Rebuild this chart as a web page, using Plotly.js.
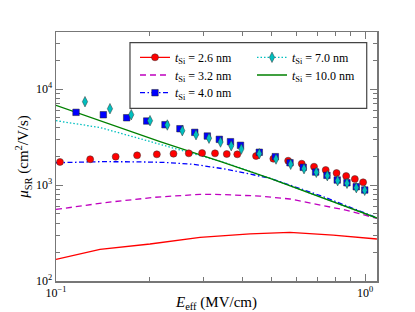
<!DOCTYPE html>
<html>
<head>
<meta charset="utf-8">
<script src="https://cdn.plot.ly/plotly-3.0.1.min.js"></script>
<style>html,body{margin:0;padding:0;background:#fff;}#chart{width:415px;height:312px;}</style>
</head>
<body>
<div id="chart"></div>
<script>
// ---- model curves (lines) ----
const lineE_26 = [0.1, 0.1388, 0.2015, 0.2925, 0.4246, 0.5713, 0.7889, 1.093];
const lineMu_26 = [168, 214, 243, 285, 309, 321, 301, 274];

const lineE_32 = [0.1, 0.144, 0.209, 0.2925, 0.3272, 0.4571, 0.5713, 0.6937, 0.8606, 1.093];
const lineMu_32 = [556, 655, 745, 800, 800, 767, 715, 634, 550, 450];

const lineE_40 = [0.1, 0.1388, 0.18, 0.2254, 0.279, 0.357, 0.4928, 0.73, 1.093];
const lineMu_40 = [1706, 1750, 1745, 1720, 1644, 1458, 1175, 760, 455];

const lineE_70 = [0.1, 0.1388, 0.2254, 0.3572, 0.4928, 1.093];
const lineMu_70 = [4677, 3972, 2566, 1683, 1175, 453];

const lineE_100 = [0.1, 0.2171, 0.3396, 0.4928, 1.093];
const lineMu_100 = [6760, 2838, 1758, 1175, 453];

// ---- data points (markers) ----
const ptE_26 = [0.103, 0.129, 0.156, 0.183, 0.212, 0.240, 0.269, 0.297, 0.327, 0.357, 0.386,
                0.444, 0.505, 0.564, 0.624, 0.684, 0.746, 0.809, 0.869, 0.927, 0.986];
const ptMu_26 = [1738, 1854, 1972, 2038, 2088, 2118, 2138, 2154, 2138, 2104, 2088,
                 2005, 1879, 1791, 1667, 1551, 1433, 1333, 1241, 1155, 1067];

const ptE_40 = [0.1161, 0.1423, 0.1693, 0.1966, 0.2253, 0.2518, 0.2812, 0.3088, 0.3377, 0.3670, 0.3954,
                0.4549, 0.5126, 0.5718, 0.631, 0.692, 0.753, 0.813, 0.874, 0.937, 0.998];
const ptMu_40 = [5715, 5395, 5020, 4641, 4248, 3857, 3537, 3238, 2990, 2826, 2592,
                 2193, 1974, 1707, 1529, 1365, 1261, 1127, 1056, 960, 887];

const ptE_70 = [0.1241, 0.1495, 0.1752, 0.2015, 0.2292, 0.2563, 0.2839, 0.3127, 0.3407, 0.3690, 0.3979,
                0.4549, 0.5152, 0.5747, 0.6348, 0.6957, 0.7551, 0.8155, 0.8745, 0.9372, 0.9977];
const ptMu_70 = [7380, 6237, 5400, 4677, 4217, 3680, 3343, 3073, 2805, 2566, 2371,
                 2118, 1866, 1643, 1479, 1356, 1250, 1109, 1042, 938, 881];

const legendNames = ['<i>t</i><sub>Si</sub> = 2.6 nm', '<i>t</i><sub>Si</sub> = 3.2 nm',
                     '<i>t</i><sub>Si</sub> = 4.0 nm', '<i>t</i><sub>Si</sub> = 7.0 nm',
                     '<i>t</i><sub>Si</sub> = 10.0 nm'];

const xTickVals = [0.1, 1];
const xTickText = ['10<sup>\u22121</sup>', '10<sup>0</sup>'];
const yTickVals = [100, 1000, 10000];
const yTickText = ['10<sup>2</sup>', '10<sup>3</sup>', '10<sup>4</sup>'];

// isolate points with nulls so the legend can show line+marker without joining the points
function isolate(arr) { const o = []; arr.forEach(v => { o.push(v); o.push(null); }); return o; }

const RED = '#ff0000', MAG = '#bf00bf', BLUE = '#0000ff', CYAN = '#00bfbf', GREEN = '#008000';
const DASH_M = '6px,4px', DASH_B = '5px,2.5px,1.5px,2.5px', DASH_C = '1.5px,2px';

const traces = [
  {x: lineE_26, y: lineMu_26, mode: 'lines', line: {color: RED, width: 1.3}, showlegend: false},
  {x: lineE_32, y: lineMu_32, mode: 'lines', line: {color: MAG, width: 1.3, dash: DASH_M},
   name: legendNames[1], legend: 'legend3'},
  {x: lineE_40, y: lineMu_40, mode: 'lines', line: {color: BLUE, width: 1.3, dash: DASH_B}, showlegend: false},
  {x: lineE_70, y: lineMu_70, mode: 'lines', line: {color: CYAN, width: 1.3, dash: DASH_C}, showlegend: false},
  {x: lineE_100, y: lineMu_100, mode: 'lines', line: {color: GREEN, width: 1.3},
   name: legendNames[4], legend: 'legend4'},
  {x: isolate(ptE_26), y: isolate(ptMu_26), mode: 'lines+markers', connectgaps: false,
   line: {color: RED, width: 1.3},
   marker: {symbol: 'circle', size: 7, color: RED, line: {color: '#333', width: 0.5}},
   name: legendNames[0], legend: 'legend'},
  {x: isolate(ptE_40), y: isolate(ptMu_40), mode: 'lines+markers', connectgaps: false,
   line: {color: BLUE, width: 1.3, dash: DASH_B},
   marker: {symbol: 'square', size: 6.5, color: BLUE, line: {color: '#222', width: 0.5}},
   name: legendNames[2], legend: 'legend5'},
  {x: isolate(ptE_70), y: isolate(ptMu_70), mode: 'lines+markers', connectgaps: false,
   line: {color: CYAN, width: 1.3, dash: DASH_C},
   marker: {symbol: 'diamond-tall', size: 7.5, color: CYAN, line: {color: '#333', width: 0.5}},
   name: legendNames[3], legend: 'legend2'}
];

const axisCommon = {
  type: 'log', showgrid: false, zeroline: false,
  showline: true, linecolor: '#777', linewidth: 1.5, mirror: 'allticks',
  ticks: 'inside', ticklen: 7, tickwidth: 1, tickcolor: '#777',
  tickfont: {family: 'Liberation Serif, serif', size: 12, color: '#000'}
};

const legendCommon = {
  xanchor: 'left', yanchor: 'middle', orientation: 'v',
  bgcolor: 'rgba(0,0,0,0)', borderwidth: 0,
  font: {family: 'Liberation Serif, serif', size: 12}
};
const COL1 = 0.2461, COL2 = 0.6106, ROW1 = 0.8984, ROW2 = 0.8273, ROW3 = 0.7562;

const layout = {
  width: 415, height: 312,
  margin: {l: 56, r: 38, t: 32, b: 31},
  paper_bgcolor: '#fff', plot_bgcolor: '#fff',
  font: {family: 'Liberation Serif, serif', size: 12, color: '#000'},
  xaxis: Object.assign({}, axisCommon, {
    range: [-1, 0.0388],
    tickmode: 'array', tickvals: xTickVals, ticktext: xTickText,
    minor: {tickvals: [0.2,0.3,0.4,0.5,0.6,0.7,0.8,0.9], ticks: 'inside', ticklen: 4, tickcolor: '#777', showgrid: false},
    title: {text: '<i>E</i><sub>eff</sub> (MV/cm)', font: {size: 15}, standoff: 7}
  }),
  yaxis: Object.assign({}, axisCommon, {
    range: [2, 4.594],
    tickmode: 'array', tickvals: yTickVals, ticktext: yTickText,
    minor: {tickvals: [200,300,400,500,600,700,800,900,2000,3000,4000,5000,6000,7000,8000,9000,20000,30000],
            ticks: 'inside', ticklen: 4, tickcolor: '#777', showgrid: false},
    title: {text: '<i>\u03bc</i><sub>SR</sub> (cm<sup>2</sup>/V/s)', font: {size: 15}, standoff: 3}
  }),
  legend: Object.assign({}, legendCommon, {x: COL1, y: ROW1}),
  legend2: Object.assign({}, legendCommon, {x: COL2, y: ROW1}),
  legend3: Object.assign({}, legendCommon, {x: COL1, y: ROW2}),
  legend4: Object.assign({}, legendCommon, {x: COL2, y: ROW2}),
  legend5: Object.assign({}, legendCommon, {x: COL1, y: ROW3}),
  shapes: [{
    type: 'rect', xref: 'paper', yref: 'paper',
    x0: 0.2305, x1: 0.968, y0: 0.6936, y1: 0.957,
    line: {color: '#444', width: 1.2}, fillcolor: '#fff', layer: 'above'
  }],
  showlegend: true
};

Plotly.newPlot('chart', traces, layout, {staticPlot: true, displayModeBar: false});
</script>
</body>
</html>
